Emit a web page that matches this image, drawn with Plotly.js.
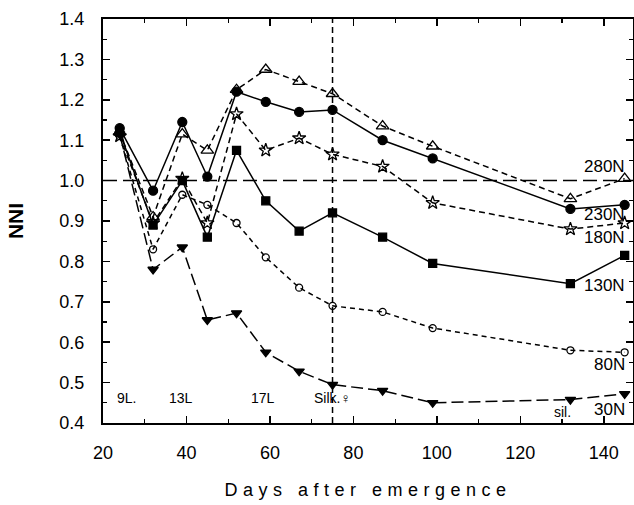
<!DOCTYPE html>
<html>
<head>
<meta charset="utf-8">
<script src="https://cdn.plot.ly/plotly-3.0.1.min.js"></script>
<style>
  html, body { margin: 0; padding: 0; background: #fff; }
  #chart { width: 634px; height: 505px; }
  .g-xtitle text { letter-spacing: 5.5px; }
</style>
</head>
<body>
<div id="chart"></div>
<script>
// Sampling dates (days after emergence)
const days = [24, 32, 39, 45, 52, 59, 67, 75, 87, 99, 132, 145];

// Nitrogen nutrition index per N rate
const n280 = [1.12, 0.91, 1.115, 1.075, 1.225, 1.275, 1.245, 1.215, 1.135, 1.085, 0.955, 1.005];
const n230 = [1.13, 0.975, 1.145, 1.01, 1.22, 1.195, 1.17, 1.175, 1.10, 1.055, 0.93, 0.94];
const n180 = [1.11, 0.895, 1.005, 0.895, 1.165, 1.075, 1.105, 1.065, 1.035, 0.945, 0.88, 0.895];
const n130 = [1.12, 0.89, 1.00, 0.86, 1.075, 0.95, 0.875, 0.92, 0.86, 0.795, 0.745, 0.815];
const n80  = [1.11, 0.83, 0.965, 0.94, 0.895, 0.81, 0.735, 0.69, 0.675, 0.635, 0.58, 0.575];
const n30  = [1.115, 0.78, 0.835, 0.655, 0.672, 0.575, 0.528, 0.495, 0.48, 0.45, 0.458, 0.472];

// Series names, printed at the right end of each curve
const seriesNames = ['280N', '230N', '180N', '130N', '80N', '30N'];
const seriesLabelY = [1.035, 0.915, 0.86, 0.74, 0.545, 0.434];

// Development stage markers along the bottom
const stageNames = ['9L.', '13L', '17L', 'Silk.\u2640', 'sil.'];
const stageDays  = [25.7, 38.7, 58.3, 75.1, 130.2];
const stageY     = [0.462, 0.462, 0.462, 0.462, 0.428];

const silkingDay = 75;
const refLevel = 1.0;

const font = 'Liberation Sans, Arial, sans-serif';

function series(y, name, dash, symbol, size, lw) {
  return {
    x: days, y: y, name: name, type: 'scatter', mode: 'lines+markers',
    line: {color: '#000', width: lw || 1.5, dash: dash},
    marker: {symbol: symbol, size: size, color: '#000',
             line: {color: '#000', width: 1.3}},
    showlegend: false, cliponaxis: false
  };
}

const traces = [
  series(n280, seriesNames[0], '6px,4px', 'triangle-up-open', 11),
  series(n230, seriesNames[1], 'solid', 'circle', 9),
  series(n180, seriesNames[2], '6px,4px', 'star-open', 10),
  series(n130, seriesNames[3], 'solid', 'square', 8),
  series(n80,  seriesNames[4], '5px,4px', 'circle-open', 7),
  series(n30,  seriesNames[5], '12px,5px', 'triangle-down', 9)
];

const annotations = [];
seriesNames.forEach((t, i) => {
  annotations.push({
    x: 145.6, y: seriesLabelY[i], xref: 'x', yref: 'y', text: t,
    showarrow: false, xanchor: 'right', yanchor: 'middle',
    font: {family: font, size: 17, color: '#000'}
  });
});
stageNames.forEach((t, i) => {
  annotations.push({
    x: stageDays[i], y: stageY[i], xref: 'x', yref: 'y', text: t,
    showarrow: false, xanchor: 'center', yanchor: 'middle',
    font: {family: font, size: 14, color: '#000'}
  });
});

const layout = {
  width: 634, height: 505,
  margin: {l: 103, r: 1, t: 19, b: 82},
  paper_bgcolor: '#fff', plot_bgcolor: '#fff',
  font: {family: font, color: '#000'},
  xaxis: {
    range: [20, 147], tickvals: [20, 40, 60, 80, 100, 120, 140],
    ticks: 'inside', ticklen: 7, tickwidth: 1.5, tickcolor: '#000',
    minor: {dtick: 10, tick0: 20, ticks: 'inside', ticklen: 4, tickwidth: 1.2, tickcolor: '#000'},
    showline: true, linecolor: '#000', linewidth: 2, mirror: 'allticks',
    showgrid: false, zeroline: false,
    tickfont: {family: font, size: 18, color: '#000'}, ticklabelstandoff: 12,
    title: {text: 'Days after emergence', font: {family: font, size: 18, color: '#000'}, standoff: 22}
  },
  yaxis: {
    range: [0.4, 1.4], tickvals: [0.4, 0.5, 0.6, 0.7, 0.8, 0.9, 1.0, 1.1, 1.2, 1.3, 1.4],
    ticktext: ['0.4', '0.5', '0.6', '0.7', '0.8', '0.9', '1.0', '1.1', '1.2', '1.3', '1.4'],
    ticks: 'inside', ticklen: 7, tickwidth: 1.5, tickcolor: '#000',
    minor: {dtick: 0.05, tick0: 0.4, ticks: 'inside', ticklen: 4, tickwidth: 1.2, tickcolor: '#000'},
    showline: true, linecolor: '#000', linewidth: 2, mirror: 'allticks',
    showgrid: false, zeroline: false,
    tickfont: {family: font, size: 18, color: '#000'}, ticklabelstandoff: 13,
    title: {text: '<b>NNI</b>', font: {family: font, size: 21, color: '#000'}, standoff: 30}
  },
  shapes: [
    {type: 'line', xref: 'paper', yref: 'y', x0: 0, x1: 1, y0: refLevel, y1: refLevel,
     line: {color: '#000', width: 1.5, dash: '14px,6px'}},
    {type: 'line', xref: 'x', yref: 'paper', x0: silkingDay, x1: silkingDay, y0: 0, y1: 1,
     line: {color: '#000', width: 1.5, dash: '6px,4px'}}
  ],
  annotations: annotations
};

Plotly.newPlot('chart', traces, layout, {staticPlot: true, displayModeBar: false});
</script>
</body>
</html>
